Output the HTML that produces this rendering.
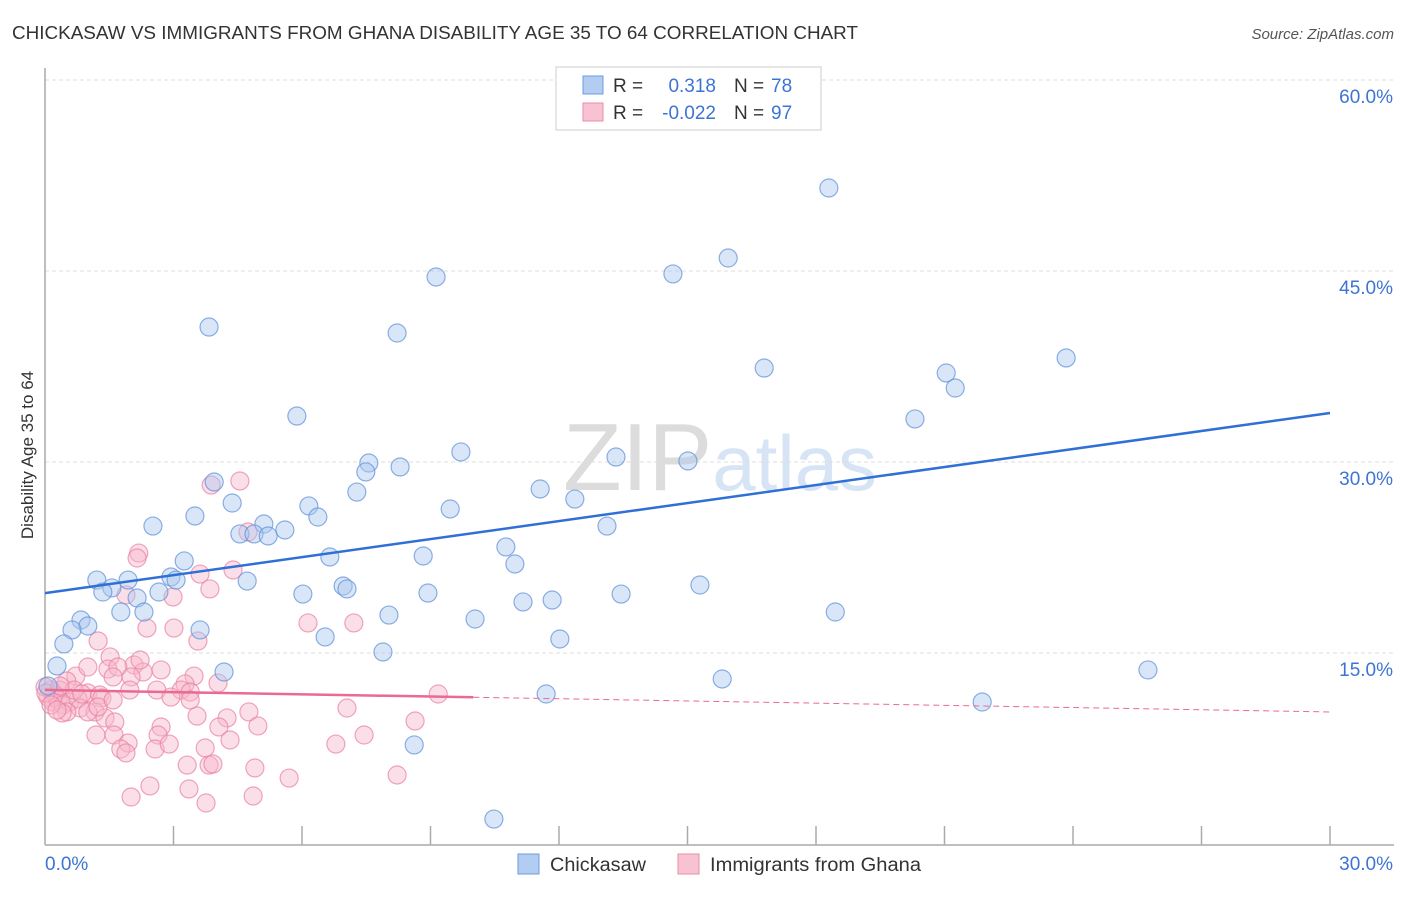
<!DOCTYPE html>
<html><head><meta charset="utf-8"><style>
body{margin:0;background:#fff;font-family:"Liberation Sans",sans-serif}
svg text{font-family:"Liberation Sans",sans-serif}
</style></head><body>
<svg id="chart" width="1406" height="892" xmlns="http://www.w3.org/2000/svg">
<text x="12" y="39" font-size="18" fill="#333" textLength="846" lengthAdjust="spacingAndGlyphs">CHICKASAW VS IMMIGRANTS FROM GHANA DISABILITY AGE 35 TO 64 CORRELATION CHART</text>
<text x="1394" y="39" font-size="15" fill="#555" text-anchor="end" font-style="italic">Source: ZipAtlas.com</text>
<text x="720" y="490" font-size="96" fill="#e6e6e6" text-anchor="middle" font-family="Liberation Serif"><tspan fill="#dcdcdc">ZIP</tspan><tspan fill="#d6e4f5" font-family="Liberation Sans" font-size="78">atlas</tspan></text>
<g id="grid"></g>
<g id="axes"></g>
<g id="pink"></g>
<g id="blue"></g>
<g id="lines"></g>
<text transform="translate(33,455) rotate(-90)" font-size="17" fill="#333" text-anchor="middle">Disability Age 35 to 64</text>
<g>
<rect x="556" y="67" width="265" height="63" fill="#fff" stroke="#ccc"/>
<rect x="583" y="76" width="20" height="18" fill="#b3cdf2" stroke="#6d9ae0"/>
<rect x="583" y="103" width="20" height="18" fill="#f7c2d2" stroke="#ea8eaa"/>
<text x="613" y="92" font-size="19" fill="#333">R = </text><text x="716" y="92" font-size="19" fill="#3d74d4" text-anchor="end">0.318</text>
<text x="734" y="92" font-size="19" fill="#333">N = </text><text x="771" y="92" font-size="19" fill="#3d74d4">78</text>
<text x="613" y="119" font-size="19" fill="#333">R = </text><text x="716" y="119" font-size="19" fill="#3d74d4" text-anchor="end">-0.022</text>
<text x="734" y="119" font-size="19" fill="#333">N = </text><text x="771" y="119" font-size="19" fill="#3d74d4">97</text>
</g>
<g>
<rect x="518" y="854" width="21" height="20" fill="#b3cdf2" stroke="#6d9ae0"/>
<text x="550" y="871" font-size="19" fill="#333" textLength="96" lengthAdjust="spacingAndGlyphs">Chickasaw</text>
<rect x="678" y="854" width="21" height="20" fill="#f7c2d2" stroke="#ea8eaa"/>
<text x="710" y="871" font-size="19" fill="#333" textLength="211" lengthAdjust="spacingAndGlyphs">Immigrants from Ghana</text>
</g>
</svg>
<script>
const yTicks=[15,30,45,60];
const xTickLabels=["0.0%","30.0%"];
const blueX=[18.30,15.95,14.66,9.13,3.83,8.22,23.84,16.79,21.04,21.25,5.88,20.31,9.71,13.33,15.01,7.56,7.49,8.29,3.95,7.28,11.56,12.37,4.37,6.16,9.46,3.50,6.37,2.52,5.11,13.12,4.55,4.88,5.21,5.60,10.76,6.65,8.83,3.25,10.97,1.21,1.94,2.94,3.06,1.56,4.72,15.29,6.96,7.05,6.02,1.35,2.66,8.94,13.45,2.15,11.16,11.84,1.77,2.31,8.03,18.45,10.04,0.84,1.00,0.63,3.62,6.54,12.02,0.44,7.89,0.28,4.18,25.75,15.81,11.70,21.88,0.07,8.62,10.48];
const blueY=[51.52,46.02,44.77,44.53,40.60,40.13,38.17,37.38,36.99,35.81,33.61,33.38,30.79,30.39,30.08,29.92,29.22,29.61,28.43,27.64,27.88,27.09,26.78,26.55,26.31,25.76,25.68,24.97,25.13,24.97,24.35,24.35,24.19,24.66,23.33,22.54,22.62,22.23,21.99,20.73,20.73,20.97,20.73,20.11,20.65,20.34,20.26,20.03,19.63,19.79,19.79,19.71,19.63,19.32,19.01,19.16,18.22,18.22,17.98,18.22,17.67,17.59,17.12,16.81,16.81,16.26,16.10,15.71,15.08,13.98,13.51,13.67,12.96,11.78,11.15,12.41,7.78,1.96];
const pinkX=[4.55,3.88,2.19,2.15,4.74,4.39,3.62,3.85,2.99,1.89,2.38,3.01,1.24,3.57,6.14,7.21,1.52,2.08,1.47,1.70,2.29,2.71,3.48,0.72,1.59,2.01,1.00,0.51,3.27,4.04,3.18,1.98,2.61,1.00,1.28,1.33,0.35,0.23,0.12,0.07,0.19,0.30,0.42,0.58,0.77,0.82,0.51,0.40,1.17,1.40,1.63,1.00,2.94,3.39,4.76,4.25,3.55,4.06,4.97,2.71,7.05,9.18,8.64,1.61,1.19,1.94,2.64,1.77,2.57,2.90,4.32,3.74,1.89,6.79,7.45,3.32,3.83,4.90,3.92,5.70,8.22,2.45,3.36,2.01,4.86,3.76,1.24,0.68,0.86,2.22,1.59,0.0,0.02,0.14,0.28,0.35,3.39];
const pinkY=[28.51,28.19,22.85,22.46,24.50,21.52,21.20,20.03,19.40,19.56,16.96,16.96,15.94,15.94,17.36,17.36,14.69,14.06,13.74,13.90,13.51,13.67,13.19,13.19,13.12,13.12,13.90,12.80,12.57,12.64,12.09,12.09,12.09,11.86,11.70,11.47,12.09,11.70,12.09,11.54,11.15,11.31,10.92,11.15,11.39,10.68,10.37,10.29,10.37,9.90,9.58,10.37,11.54,11.94,10.37,9.90,10.05,9.19,9.27,9.19,10.68,11.78,9.66,8.56,8.56,7.93,8.56,7.46,7.46,7.85,8.17,7.54,7.15,7.85,8.56,6.20,6.20,5.97,6.28,5.18,5.42,4.56,4.32,3.69,3.77,3.22,10.76,12.09,11.78,14.45,11.31,12.33,11.86,10.92,10.52,12.41,11.31];
const blueTrend=[19.7,33.85];
const pinkTrend=[12.1,10.37];
const NS="http://www.w3.org/2000/svg";
const X0=45,X1=1330,Y0=844,PXY=191/15;
function sx(v){return X0+(v/30)*(X1-X0);}
function sy(v){return Y0-v*PXY;}
function mk(tag,attrs,parent){const e=document.createElementNS(NS,tag);for(const k in attrs)e.setAttribute(k,attrs[k]);parent.appendChild(e);return e;}
const grid=document.getElementById('grid');
yTicks.forEach(t=>{
 const l=mk('line',{x1:X0,x2:1394,y1:sy(t),y2:sy(t),stroke:'#ddd','stroke-dasharray':'4,3'},grid);
 
 
 const tx=mk('text',{x:1393,y:sy(t)+23,'font-size':19,fill:'#3d74d4','text-anchor':'end'},grid);
 tx.textContent=t.toFixed(1)+'%';
 
 
});
const ax=document.getElementById('axes');
mk('line',{x1:X0,x2:X0,y1:68,y2:845,stroke:'#aaa','stroke-width':1.5},ax);
mk('line',{x1:X0,x2:1394,y1:845,y2:845,stroke:'#aaa','stroke-width':1.5},ax);
for(let i=1;i<=10;i++){mk('line',{x1:sx(i*3),x2:sx(i*3),y1:826,y2:845,stroke:'#aaa','stroke-width':1.5},ax);}
const xl=mk('text',{x:45,y:870,'font-size':19,fill:'#3d74d4'},ax);xl.textContent=xTickLabels[0];


const xr=mk('text',{x:1393,y:870,'font-size':19,fill:'#3d74d4','text-anchor':'end'},ax);xr.textContent=xTickLabels[1];


function dots(xs,ys,g,fill,stroke,name){xs.forEach((x,i)=>{const c=mk('circle',{cx:sx(x),cy:sy(ys[i]),r:9,fill:fill,'fill-opacity':0.45,stroke:stroke,'stroke-opacity':0.7,'stroke-width':1.2},g);
 
 });}
dots(pinkX,pinkY,document.getElementById('pink'),'#f7b8cb','#e97f9f','ghana-point');
dots(blueX,blueY,document.getElementById('blue'),'#aac8f0','#5d8fd9','chickasaw-point');
const lg=document.getElementById('lines');
const bl=mk('line',{x1:sx(0),y1:sy(blueTrend[0]),x2:sx(30),y2:sy(blueTrend[1]),stroke:'#2f6fd6','stroke-width':2.5},lg);


const xs=10;const ym=pinkTrend[0]+(pinkTrend[1]-pinkTrend[0])*xs/30;
const p1=mk('line',{x1:sx(0),y1:sy(pinkTrend[0]),x2:sx(xs),y2:sy(ym),stroke:'#e96a92','stroke-width':2.5},lg);


const p2=mk('line',{x1:sx(xs),y1:sy(ym),x2:sx(30),y2:sy(pinkTrend[1]),stroke:'#e96a92','stroke-width':1,'stroke-dasharray':'6,4'},lg);


</script>
</body></html>
